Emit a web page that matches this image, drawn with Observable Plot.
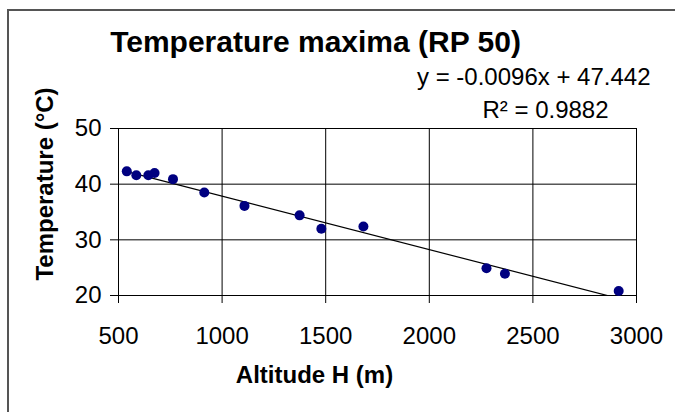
<!DOCTYPE html>
<html>
<head>
<meta charset="utf-8">
<script src="https://cdn.jsdelivr.net/npm/d3@7"></script>
<script src="https://cdn.jsdelivr.net/npm/@observablehq/plot@0.6"></script>
<style>
  html, body { margin: 0; padding: 0; background: #fff; overflow: hidden; }
  #wrap { position: relative; width: 675px; height: 412px; }
  #border { position: absolute; left: 7px; top: 9px; width: 720px; height: 450px;
            border-left: 2px solid #555; border-top: 2px solid #555; }
  #chart { position: absolute; left: 0; top: 0; }
</style>
</head>
<body>
<div id="wrap"><div id="border"></div><div id="chart"></div></div>
<script>
const titleText = "Temperature maxima (RP 50)";
const xLabel = "Altitude H (m)";
const yLabel = "Temperature (°C)";
const equationText = "y = -0.0096x + 47.442";
const r2Text = "R² = 0.9882";
const slope = -0.0096;
const intercept = 47.442;

const altitudes = [540, 586, 644, 674, 763, 914, 1108, 1374, 1479, 1682, 2276, 2365, 2914];
const temps = [42.3, 41.6, 41.6, 42.0, 40.9, 38.5, 36.1, 34.4, 32.0, 32.4, 24.9, 23.9, 20.8];
const xTicks = [500, 1000, 1500, 2000, 2500, 3000];
const yTicks = [20, 30, 40, 50];

const points = altitudes.map((a, i) => ({x: a, y: temps[i]}));
const xs = [d3.min(altitudes), d3.max(altitudes)];
const trend = xs.map(x => ({x, y: slope * x + intercept}));

const font = "'Liberation Sans', Arial, sans-serif";
const plain = d => String(d);

const plot = Plot.plot({
  width: 675,
  height: 412,
  marginLeft: 118,
  marginRight: 39,
  marginTop: 128,
  marginBottom: 117,
  style: {fontFamily: font, color: "black", background: "transparent", overflow: "visible"},
  x: {domain: [500, 3000]},
  y: {domain: [20, 50]},
  marks: [
    Plot.gridX(xTicks, {stroke: "black", strokeOpacity: 1, strokeWidth: 1}),
    Plot.gridY(yTicks, {stroke: "black", strokeOpacity: 1, strokeWidth: 1}),
    Plot.axisX(xTicks, {fontSize: 24, tickSize: 8, tickPadding: 23, label: null, stroke: "black", tickFormat: plain}),
    Plot.axisY(yTicks, {fontSize: 24, tickSize: 8, tickPadding: 9, label: null, stroke: "black", tickFormat: plain}),
    Plot.line(trend, {x: "x", y: "y", stroke: "black", strokeWidth: 1.2, clip: true}),
    Plot.dot(points, {x: "x", y: "y", r: 5, fill: "#000080"}),
    Plot.text([titleText], {text: d => d, frameAnchor: "top", textAnchor: "middle", lineAnchor: "middle", dx: -62, dy: -86, fontSize: 30, fontWeight: "bold", fill: "black"}),
    Plot.text([equationText], {text: d => d, frameAnchor: "top-right", textAnchor: "end", lineAnchor: "middle", dx: 14, dy: -51, fontSize: 24, fill: "black"}),
    Plot.text([r2Text], {text: d => d, frameAnchor: "top-left", textAnchor: "middle", lineAnchor: "middle", dx: 427, dy: -18, fontSize: 24, fill: "black"}),
    Plot.text([xLabel], {text: d => d, frameAnchor: "bottom", textAnchor: "middle", lineAnchor: "middle", dx: -63, dy: 80, fontSize: 24, fontWeight: "bold", fill: "black"}),
    Plot.text([yLabel], {text: d => d, frameAnchor: "left", textAnchor: "middle", lineAnchor: "middle", rotate: -90, dx: -73, dy: -28, fontSize: 24, fontWeight: "bold", fill: "black"})
  ]
});
document.getElementById("chart").appendChild(plot);
</script>
</body>
</html>
